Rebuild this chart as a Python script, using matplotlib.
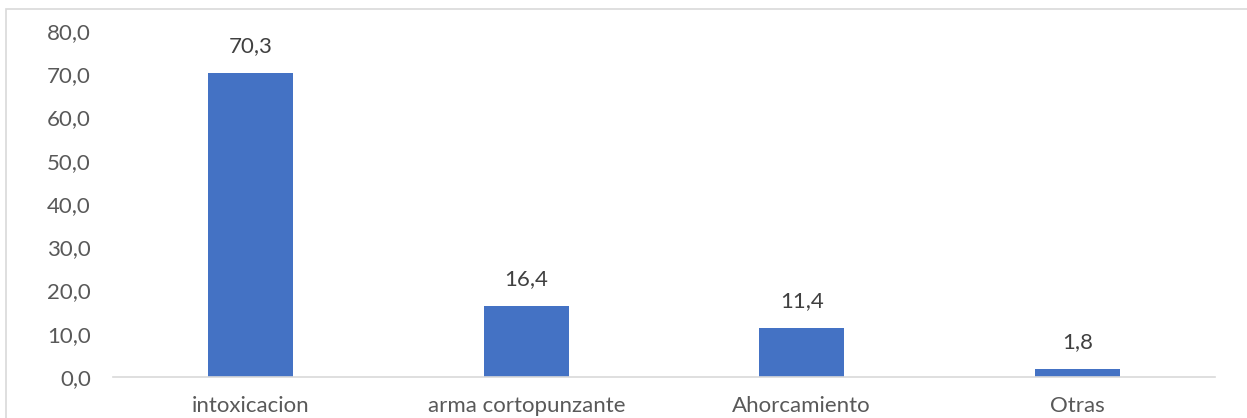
import matplotlib.pyplot as plt
from matplotlib.patches import Rectangle

categories = ['intoxicacion', 'arma cortopunzante', 'Ahorcamiento', 'Otras']
values = [70.3, 16.4, 11.4, 1.8]
yticks = [0, 10, 20, 30, 40, 50, 60, 70, 80]

plt.rcParams['font.family'] = ['Lato', 'DejaVu Sans']

fig = plt.figure(figsize=(12.47, 4.18), dpi=100)
ax = fig.add_axes([113/1247, 1-377/418, (1215-113)/1247, (377-31)/418])

# chart border
fig.patches.append(Rectangle((6/1247, -0.1), 1.2, 1-9/418+0.1, transform=fig.transFigure,
                             fill=False, edgecolor='#d9d9d9', linewidth=1.2))

x = range(len(categories))
bars = ax.bar(x, values, width=0.31, color='#4472C4')

for xi, v in zip(x, values):
    ax.annotate(('%.1f' % v).replace('.', ','), (xi, v), xytext=(0, 12),
                textcoords='offset points', ha='center', va='bottom',
                fontsize=16, color='#404040')

ax.set_xlim(-0.5, len(categories) - 0.5)
ax.set_ylim(0, 80)
ax.set_yticks(yticks)
ax.set_yticklabels([('%.1f' % t).replace('.', ',') for t in yticks])
ax.set_xticks(list(x))
ax.set_xticklabels(categories)
ax.tick_params(axis='both', length=0, labelsize=16, labelcolor='#595959')
ax.tick_params(axis='x', pad=14)
ax.tick_params(axis='y', pad=16)

for s in ['top', 'right', 'left']:
    ax.spines[s].set_visible(False)
ax.spines['bottom'].set_color('#d9d9d9')
ax.spines['bottom'].set_linewidth(1.2)

fig.savefig('out.png', dpi=100)
